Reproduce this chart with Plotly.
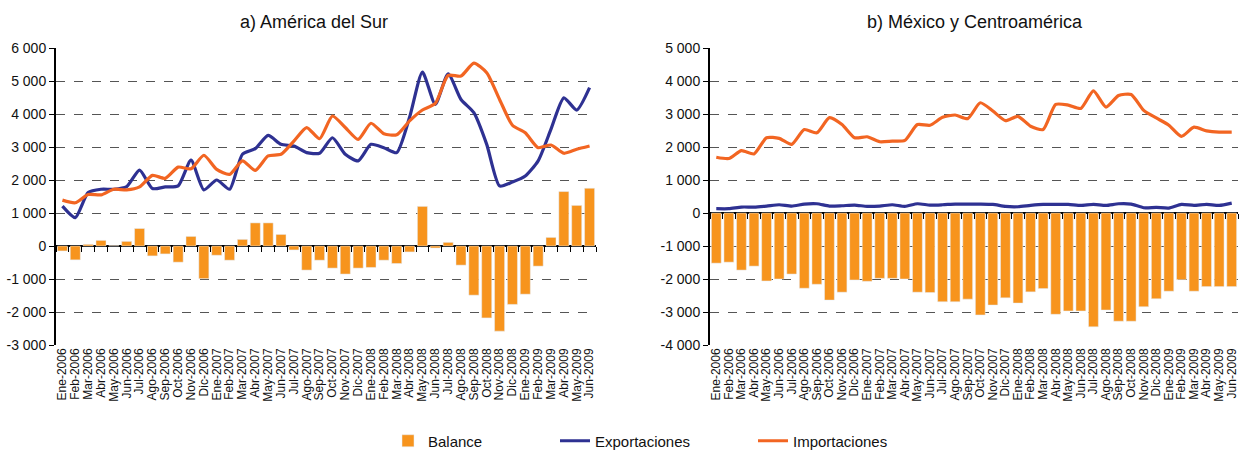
import plotly.graph_objects as go

meses = ['Ene', 'Feb', 'Mar', 'Abr', 'May', 'Jun', 'Jul', 'Ago', 'Sep', 'Oct', 'Nov', 'Dic']
periodos = [m + '-' + str(a) for a in range(2006, 2010) for m in meses][:42]

# a) America del Sur
sur_balance = [-150, -420, 50, 170, 10, 140, 530, -300, -240, -490, 290, -990,
               -280, -430, 200, 700, 700, 350, -120, -730, -430, -670, -850, -670,
               -650, -430, -530, -180, 1200, -60, 110, -580, -1490, -2180, -2580, -1770,
               -1460, -610, 260, 1650, 1230, 1750]
sur_export = [1210, 860, 1620, 1720, 1720, 1800, 2300, 1740, 1790, 1820, 2600, 1700,
              2000, 1720, 2780, 2950, 3350, 3080, 3030, 2830, 2810, 3280, 2780, 2580,
              3080, 2980, 2830, 3900, 5270, 4290, 5220, 4440, 4040, 3080, 1820, 1940,
              2120, 2580, 3540, 4490, 4120, 4800]
sur_import = [1390, 1310, 1560, 1550, 1720, 1700, 1790, 2140, 2050, 2390, 2340, 2750,
              2320, 2170, 2580, 2290, 2730, 2780, 3180, 3590, 3250, 3940, 3590, 3230,
              3720, 3400, 3370, 3790, 4120, 4320, 5170, 5150, 5540, 5250, 4440, 3660,
              3430, 2980, 3060, 2810, 2930, 3030]

# b) Mexico y Centroamerica
mca_balance = [-1520, -1490, -1730, -1610, -2060, -2000, -1850, -2280, -2160, -2640, -2400, -2030,
               -2070, -1980, -1980, -2000, -2400, -2410, -2690, -2690, -2610, -3090, -2790, -2570,
               -2730, -2390, -2290, -3070, -2970, -2970, -3450, -2940, -3280, -3280, -2840, -2600,
               -2370, -2020, -2370, -2230, -2230, -2230]
mca_export = [130, 130, 180, 180, 210, 250, 210, 270, 280, 210, 220, 240,
              200, 210, 250, 200, 280, 240, 250, 270, 270, 270, 260, 200,
              190, 230, 260, 260, 260, 230, 260, 230, 280, 270, 160, 170,
              150, 260, 230, 260, 230, 300]
mca_import = [1690, 1650, 1890, 1790, 2280, 2260, 2080, 2530, 2430, 2890, 2680, 2280,
              2310, 2160, 2180, 2200, 2680, 2660, 2900, 2970, 2860, 3340, 3090, 2800,
              2930, 2630, 2530, 3290, 3270, 3170, 3700, 3210, 3560, 3590, 3110, 2880,
              2660, 2320, 2600, 2490, 2450, 2450]

sur_ticks = list(range(-3000, 6001, 1000))
mca_ticks = list(range(-4000, 5001, 1000))


def fmt(v):
    s = '{:,}'.format(abs(v)).replace(',', ' ')
    return '-' + s if v < 0 else s


AZUL = '#2E3192'
NARANJA = '#F26522'
BARRA = '#F7941D'
FUENTE = 'Liberation Sans, Arial, sans-serif'

fig = go.Figure()

paneles = [
    ('x', 'y', sur_balance, sur_export, sur_import, True),
    ('x2', 'y2', mca_balance, mca_export, mca_import, False),
]
for xa, ya, bal, exp_, imp, leg in paneles:
    fig.add_trace(go.Bar(x=periodos, y=bal, name='Balance', marker_color=BARRA,
                         xaxis=xa, yaxis=ya, showlegend=leg, legend='legend'))
    fig.add_trace(go.Scatter(x=periodos, y=exp_, name='Exportaciones', mode='lines',
                             line=dict(color=AZUL, width=3.2, shape='spline', smoothing=0.6),
                             xaxis=xa, yaxis=ya, showlegend=leg, legend='legend2'))
    fig.add_trace(go.Scatter(x=periodos, y=imp, name='Importaciones', mode='lines',
                             line=dict(color=NARANJA, width=3.2, shape='spline', smoothing=0.6),
                             xaxis=xa, yaxis=ya, showlegend=leg, legend='legend3'))

# empty traces so the tick-only axes on the zero line get drawn
fig.add_trace(go.Scatter(x=[], y=[], xaxis='x3', yaxis='y', showlegend=False))
fig.add_trace(go.Scatter(x=[], y=[], xaxis='x4', yaxis='y2', showlegend=False))

eje_x = dict(type='category', showline=False, showgrid=False, ticks='',
             tickmode='array', tickvals=periodos, automargin=False,
             tickangle=-90, tickfont=dict(size=12, color='#111'))
eje_y = dict(showline=True, linecolor='black', linewidth=2, ticks='outside', ticklen=5,
             tickcolor='black', showgrid=True, gridcolor='#555', griddash='dash', gridwidth=1,
             zeroline=True, zerolinecolor='black', zerolinewidth=2, automargin=False,
             tickfont=dict(size=14, color='#111'))
bordes = [i - 0.5 for i in range(43)]
marcas = dict(range=[-0.5, 41.5], tickvals=bordes, ticks='outside', ticklen=5,
              tickcolor='black', showticklabels=False, showgrid=False, zeroline=False,
              showline=False, anchor='free', automargin=False)

L = 56
W = 1239 - L - 1
leyenda = dict(orientation='h', xref='container', yref='container', y=9 / 450,
               xanchor='left', yanchor='middle', font=dict(size=15),
               bgcolor='rgba(0,0,0,0)')
fig.update_layout(
    width=1239, height=450,
    margin=dict(l=L, r=1, t=48, b=105),
    plot_bgcolor='white', paper_bgcolor='white',
    font=dict(family=FUENTE, color='#111'),
    barmode='relative', bargap=0.22,
    xaxis=dict(eje_x, domain=[0, (596 - L) / W], anchor='y'),
    xaxis2=dict(eje_x, domain=[(710 - L) / W, 1], anchor='y2'),
    xaxis3=dict(marcas, overlaying='x', position=1 / 3),
    xaxis4=dict(marcas, overlaying='x2', position=4 / 9),
    yaxis=dict(eje_y, range=[-3000, 6000], tickvals=sur_ticks,
               ticktext=[fmt(v) for v in sur_ticks], anchor='x'),
    yaxis2=dict(eje_y, range=[-4000, 5000], tickvals=mca_ticks,
                ticktext=[fmt(v) for v in mca_ticks], anchor='x2'),
    legend=dict(leyenda, x=388 / 1239),
    legend2=dict(leyenda, x=555 / 1239),
    legend3=dict(leyenda, x=753 / 1239),
    annotations=[
        dict(text='a) América del Sur', x=(314 - L) / W, y=1, yshift=26,
             xanchor='center', yanchor='middle',
             xref='paper', yref='paper', showarrow=False, font=dict(size=18)),
        dict(text='b) México y Centroamérica', x=(975 - L) / W, y=1, yshift=26,
             xanchor='center', yanchor='middle',
             xref='paper', yref='paper', showarrow=False, font=dict(size=18)),
    ],
)

# drop the browser's default page margin so the figure starts at the corner
fig.write_html('out.html', config={'displayModeBar': False},
               post_script="document.body.style.margin='0';")
